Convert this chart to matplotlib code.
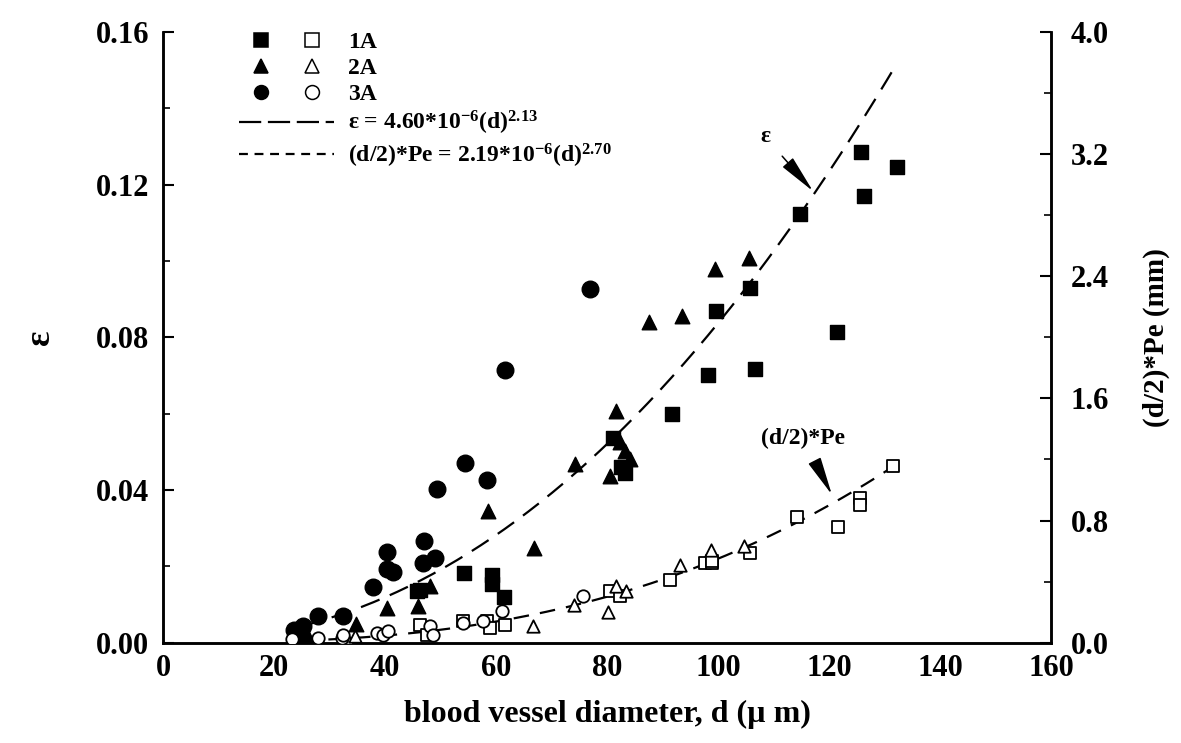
import matplotlib
matplotlib.use('Agg')
import matplotlib.pyplot as plt
from matplotlib.lines import Line2D
from matplotlib.legend_handler import HandlerTuple
from matplotlib.ticker import MultipleLocator
import numpy as np

plt.rcParams['font.family'] = ['Liberation Serif', 'DejaVu Serif']
plt.rcParams['font.weight'] = 'bold'
plt.rcParams['axes.labelweight'] = 'bold'
plt.rcParams['mathtext.fontset'] = 'custom'
plt.rcParams['mathtext.rm'] = 'Liberation Serif:bold'
plt.rcParams['mathtext.default'] = 'rm'

# filled symbols -> epsilon (left axis)
sq_d = [25.0, 45.7, 46.3, 54.2, 59.3, 59.3, 61.5, 81.1, 82.5, 83.2, 91.7, 98.1,
        99.6, 105.8, 106.7, 114.8, 121.5, 125.8, 126.3, 132.2]
sq_eps = [0.002, 0.0135, 0.0139, 0.0182, 0.0178, 0.0155, 0.0121, 0.0537, 0.046, 0.0445,
          0.0598, 0.0701, 0.0869, 0.093, 0.0718, 0.1123, 0.0815, 0.1286, 0.117, 0.1245]

tri_d = [26.0, 34.8, 40.4, 46.0, 48.1, 58.6, 66.9, 74.2, 80.5, 81.6, 82.3, 83.2,
         84.1, 87.6, 93.5, 99.5, 105.5]
tri_eps = [0.002, 0.005, 0.0091, 0.0095, 0.0148, 0.0345, 0.0248, 0.0467, 0.0436, 0.0607,
           0.0525, 0.0502, 0.048, 0.084, 0.0856, 0.0978, 0.1007]

cir_d = [23.6, 25.3, 28.0, 32.4, 37.9, 40.4, 40.4, 41.4, 46.9, 47.1, 49.0, 49.4,
         54.4, 58.4, 61.6, 77.0]
cir_eps = [0.0034, 0.0043, 0.0071, 0.0071, 0.0146, 0.0237, 0.0192, 0.0184, 0.0209, 0.0266,
           0.0222, 0.0403, 0.047, 0.0426, 0.0714, 0.0926]

# open symbols -> (d/2)*Pe in mm (right axis)
osq_d = [46.3, 47.5, 54.1, 58.3, 58.9, 61.6, 80.5, 82.3, 91.4, 97.7, 98.9, 98.9,
         105.8, 114.2, 121.7, 125.6, 125.6, 131.6]
osq_pe = [0.118, 0.052, 0.14, 0.14, 0.098, 0.118, 0.336, 0.304, 0.413, 0.523, 0.523, 0.533,
          0.588, 0.824, 0.759, 0.949, 0.905, 1.156]

otri_d = [33.1, 34.6, 66.7, 74.0, 80.2, 81.7, 83.5, 93.2, 98.8, 104.7]
otri_pe = [0.031, 0.041, 0.111, 0.249, 0.199, 0.369, 0.336, 0.511, 0.61, 0.632]

ocir_d = [23.2, 28.0, 32.2, 32.5, 38.5, 39.7, 40.6, 48.1, 48.7, 54.1, 57.7, 61.0, 75.7]
ocir_pe = [0.024, 0.031, 0.031, 0.052, 0.064, 0.052, 0.074, 0.107, 0.052, 0.129, 0.14,
           0.205, 0.304]

# fitted power laws from the legend
eps_a, eps_b = 4.60e-6, 2.13
pe_a, pe_b = 2.19e-6, 2.70
d_fit = np.linspace(25, 132, 200)

fig, ax = plt.subplots(figsize=(11.81, 7.43), dpi=100)
fig.subplots_adjust(left=0.138, right=0.890, bottom=0.135, top=0.957)
ax2 = ax.twinx()

ms = 110
ax.scatter(sq_d, sq_eps, marker='s', s=ms, color='black', zorder=3)
ax.scatter(tri_d, tri_eps, marker='^', s=ms, color='black', zorder=3)
ax.scatter(cir_d, cir_eps, marker='o', s=ms * 1.3, color='black', zorder=3)
ax.plot(d_fit, eps_a * d_fit ** eps_b, color='black', lw=1.6, dashes=(9, 5))

mo = 80
ax2.scatter(osq_d, osq_pe, marker='s', s=mo, facecolors='white', edgecolors='black', linewidths=1.3, zorder=3)
ax2.scatter(otri_d, otri_pe, marker='^', s=mo, facecolors='white', edgecolors='black', linewidths=1.3, zorder=3)
ax2.scatter(ocir_d, ocir_pe, marker='o', s=mo, facecolors='white', edgecolors='black', linewidths=1.3, zorder=3)
ax2.plot(d_fit, pe_a * d_fit ** pe_b, color='black', lw=1.6, dashes=(7, 5), zorder=2)

ax.set_xlim(0, 160)
ax.set_ylim(0, 0.16)
ax2.set_ylim(0, 4.0)
ax.set_xticks(np.arange(0, 161, 20))
ax.set_yticks(np.arange(0, 0.161, 0.04))
ax.yaxis.set_minor_locator(MultipleLocator(0.02))
ax2.set_yticks(np.arange(0, 4.01, 0.8))
ax2.yaxis.set_minor_locator(MultipleLocator(0.4))
ax.set_yticklabels(['0.00', '0.04', '0.08', '0.12', '0.16'])
ax2.set_yticklabels(['0.0', '0.8', '1.6', '2.4', '3.2', '4.0'])

for a in (ax, ax2):
    a.spines['top'].set_visible(False)
    for s in ('left', 'right', 'bottom'):
        a.spines[s].set_linewidth(1.8)
ax.tick_params(axis='y', direction='in', length=8, width=1.5, labelsize=22, pad=10)
ax.tick_params(axis='y', which='minor', direction='in', length=5, width=1.2)
ax.tick_params(axis='x', length=0, labelsize=22, pad=8)
ax2.tick_params(axis='y', direction='in', length=8, width=1.5, labelsize=22, pad=14)
ax2.tick_params(axis='y', which='minor', direction='in', length=5, width=1.2)

ax.set_xlabel('blood vessel diameter, d (µ m)', fontsize=23, labelpad=12)
ax.set_ylabel('ε', fontsize=26, labelpad=28)
ax2.set_ylabel('(d/2)*Pe (mm)', fontsize=21, labelpad=24)

ax.annotate('ε', xy=(117.1, 0.1183), xytext=(108.5, 0.1325), fontsize=17,
            ha='center', va='center',
            arrowprops=dict(arrowstyle='-|>,head_length=1.4,head_width=0.25',
                            color='black', lw=1.1, shrinkA=10, shrinkB=0))
ax2.annotate('(d/2)*Pe', xy=(120.5, 0.97), xytext=(115.3, 1.34), fontsize=17,
             ha='center', va='center',
             arrowprops=dict(arrowstyle='-|>,head_length=1.4,head_width=0.25',
                             color='black', lw=1.1, shrinkA=10, shrinkB=0))

# legend
def fm(m, filled):
    return Line2D([], [], marker=m, ls='none', markersize=10,
                  markerfacecolor='black' if filled else 'white',
                  markeredgecolor='black', markeredgewidth=1.1)

handles = [(fm('s', True), fm('s', False)),
           (fm('^', True), fm('^', False)),
           (fm('o', True), fm('o', False)),
           Line2D([], [], color='black', lw=1.6, dashes=(10, 3)),
           Line2D([], [], color='black', lw=1.6, dashes=(4, 3))]
labels = ['1A', '2A', '3A',
          r'ε = 4.60*10$^{-6}$(d)$^{2.13}$',
          r'(d/2)*Pe = 2.19*10$^{-6}$(d)$^{2.70}$']
leg = ax.legend(handles, labels, loc='upper left', bbox_to_anchor=(0.062, 1.035),
                frameon=False, prop={'size': 17, 'weight': 'bold'}, handlelength=4.0,
                handletextpad=0.6, labelspacing=0.18,
                handler_map={tuple: HandlerTuple(ndivide=None, pad=0.3)})

plt.savefig('out.png', dpi=100)
